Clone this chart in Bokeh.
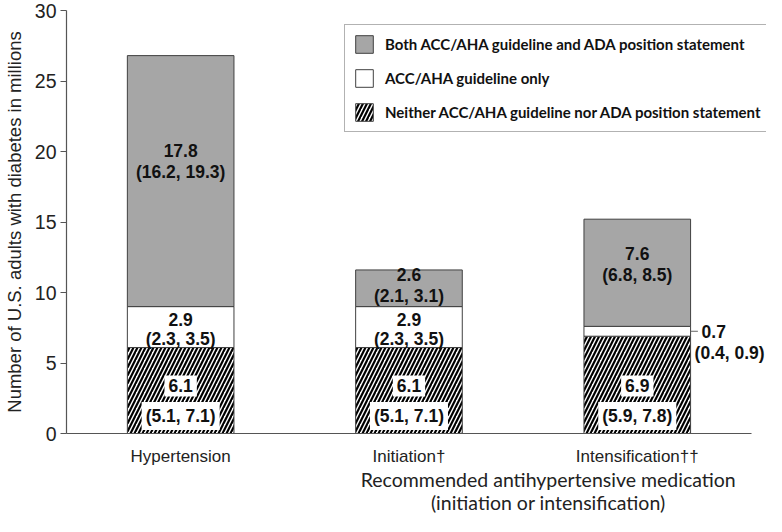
import numpy as np
from bokeh.plotting import figure
from bokeh.models import (ColumnDataSource, Range1d, FixedTicker, Legend, LegendItem,
                          LinearAxis)
from bokeh.core.properties import value
from bokeh.embed import file_html
from bokeh.resources import INLINE

# ---------------- data ----------------
categories = ["Hypertension", "Initiation\u2020", "Intensification\u2020\u2020"]
neither = [6.1, 6.1, 6.9]
neither_ci = ["(5.1, 7.1)", "(5.1, 7.1)", "(5.9, 7.8)"]
aha_only = [2.9, 2.9, 0.7]
aha_only_ci = ["(2.3, 3.5)", "(2.3, 3.5)", "(0.4, 0.9)"]
both = [17.8, 2.6, 7.6]
both_ci = ["(16.2, 19.3)", "(2.1, 3.1)", "(6.8, 8.5)"]
y_ticks = [0, 5, 10, 15, 20, 25, 30]
legend_labels = ["Both ACC/AHA guideline and ADA position statement",
                 "ACC/AHA guideline only",
                 "Neither ACC/AHA guideline nor ADA position statement"]
y_axis_title = "Number of U.S. adults with diabetes in millions"
x_axis_title = "Recommended antihypertensive medication\n(initiation or intensification)"

# ---------------- geometry ----------------
xpos = np.arange(len(categories)) + 0.5
top1 = np.array(neither)
top2 = top1 + np.array(aha_only)
top3 = top2 + np.array(both)
W = 0.467

VAL_FONT = value("Liberation Sans")
p = figure(width=766, height=516,
           x_range=Range1d(0, 3.066), y_range=Range1d(0, 30),
           output_backend="svg", toolbar_location=None,
           min_border_left=64, min_border_right=0,
           min_border_top=10, min_border_bottom=78)
p.xgrid.visible = False
p.ygrid.visible = False
p.outline_line_color = None
p.background_fill_color = "white"
p.border_fill_color = "white"

src = ColumnDataSource(dict(x=xpos, b0=np.zeros(3), t1=top1, t2=top2, t3=top3))

bar_line = "#404040"
r_neither = p.vbar(x="x", bottom="b0", top="t1", width=W, source=src,
                   fill_color="white", line_color=bar_line, line_width=1,
                   hatch_pattern="/", hatch_color="black",
                   hatch_weight=2.2, hatch_scale=8)
r_aha = p.vbar(x="x", bottom="t1", top="t2", width=W, source=src,
               fill_color="white", line_color=bar_line, line_width=1)
r_both = p.vbar(x="x", bottom="t2", top="t3", width=W, source=src,
                fill_color="#a6a6a6", line_color=bar_line, line_width=1)

# ---------------- value labels ----------------
plain = dict(x=[], y=[], text=[], yo=[])
boxed = dict(x=[], y=[], text=[], yo=[])
side = dict(x=[], y=[], text=[], xo=[], yo=[])
lead = dict(x0=[], x1=[], y=[])
BASE_LABEL_Y = 2.31
for i in range(len(categories)):
    # hatched base segment: labels on white boxes
    boxed["x"] += [xpos[i], xpos[i]]
    boxed["y"] += [BASE_LABEL_Y, BASE_LABEL_Y]
    boxed["text"] += [f"{neither[i]:.1f}", neither_ci[i]]
    boxed["yo"] += [-15, 15]
    # ACC/AHA only segment
    if aha_only[i] >= 1.5:
        yc = top1[i] + 0.45 * aha_only[i]
        plain["x"] += [xpos[i], xpos[i]]
        plain["y"] += [yc, yc]
        plain["text"] += [f"{aha_only[i]:.1f}", aha_only_ci[i]]
        plain["yo"] += [-10, 10]
    else:
        yc = top1[i] + 0.5 * aha_only[i]
        xe = xpos[i] + W / 2
        lead["x0"].append(xe)
        lead["x1"].append(xe + 0.032)
        lead["y"].append(yc)
        side["x"] += [xe, xe]
        side["y"] += [yc, yc]
        side["text"] += [f"{aha_only[i]:.1f}", aha_only_ci[i]]
        side["xo"] += [11, 4]
        side["yo"] += [0, 22]
    # both segment
    yc = top2[i] + 0.58 * both[i]
    plain["x"] += [xpos[i], xpos[i]]
    plain["y"] += [yc, yc]
    plain["text"] += [f"{both[i]:.1f}", both_ci[i]]
    plain["yo"] += [-11, 11]

common = dict(text_font=VAL_FONT, text_font_style="bold", text_font_size="17.5px",
              text_color="#111111", text_baseline="middle")
p.text(x="x", y="y", text="text", y_offset="yo", source=ColumnDataSource(plain),
       text_align="center", **common)
p.text(x="x", y="y", text="text", y_offset="yo", source=ColumnDataSource(boxed),
       text_align="center", background_fill_color="white", padding=4, **common)
p.segment(x0="x0", x1="x1", y0="y", y1="y", source=ColumnDataSource(lead),
          line_color="#666666", line_width=1)
p.text(x="x", y="y", text="text", x_offset="xo", y_offset="yo",
       source=ColumnDataSource(side), text_align="left", **common)

# ---------------- axes ----------------
yax = p.yaxis[0]
yax.ticker = FixedTicker(ticks=y_ticks)
yax.bounds = (0, 30)
yax.axis_line_color = "#555555"
yax.axis_line_width = 1.2
yax.major_tick_line_color = "#555555"
yax.major_tick_out = 6
yax.major_tick_in = 0
yax.minor_tick_line_color = None
yax.major_label_text_font = "Liberation Sans"
yax.major_label_text_font_size = "19.5px"
yax.major_label_text_color = "#222222"
yax.major_label_standoff = 4
yax.axis_label = y_axis_title
yax.axis_label_text_font = "Liberation Sans"
yax.axis_label_text_font_style = "normal"
yax.axis_label_text_font_size = "18.5px"
yax.axis_label_text_color = "#222222"
yax.axis_label_standoff = 7

xax = p.xaxis[0]
xax.ticker = FixedTicker(ticks=list(xpos))
xax.major_label_overrides = {float(x): c for x, c in zip(xpos, categories)}
xax.bounds = (0, 3.0)
xax.axis_line_color = "#555555"
xax.axis_line_width = 1.2
xax.major_tick_line_color = None
xax.major_tick_out = 0
xax.minor_tick_line_color = None
xax.minor_tick_out = 0
xax.major_label_text_font = "Liberation Sans"
xax.major_label_text_font_size = "17px"
xax.major_label_text_color = "#222222"
xax.major_label_standoff = 13

# second (title) axis: multi-line label centred under the two medication bars
TITLE_X = 2.11
tax = LinearAxis(ticker=FixedTicker(ticks=[TITLE_X]),
                 major_label_overrides={TITLE_X: x_axis_title},
                 axis_line_color=None, major_tick_line_color=None,
                 minor_tick_line_color=None, major_tick_out=0, major_tick_in=0,
                 minor_tick_out=0, minor_tick_in=0, major_label_standoff=-1,
                 major_label_text_font="Lato", major_label_text_font_size="19.5px",
                 major_label_text_color="#222222",
                 major_label_text_line_height=1.0)
p.add_layout(tax, "below")

# ---------------- legend ----------------
legend = Legend(items=[LegendItem(label=legend_labels[0], renderers=[r_both]),
                       LegendItem(label=legend_labels[1], renderers=[r_aha]),
                       LegendItem(label=legend_labels[2], renderers=[r_neither])],
                location=(278, 301), orientation="vertical",
                glyph_width=22, glyph_height=22, label_standoff=10,
                spacing=12, padding=8, margin=0,
                label_text_font="Lato", label_text_font_style="bold",
                label_text_font_size="15px", label_text_color="#111111",
                border_line_color="#666666", border_line_width=1.5,
                background_fill_color="white", background_fill_alpha=1)
p.add_layout(legend, "center")

open("out.html", "w").write(file_html(p, INLINE))
